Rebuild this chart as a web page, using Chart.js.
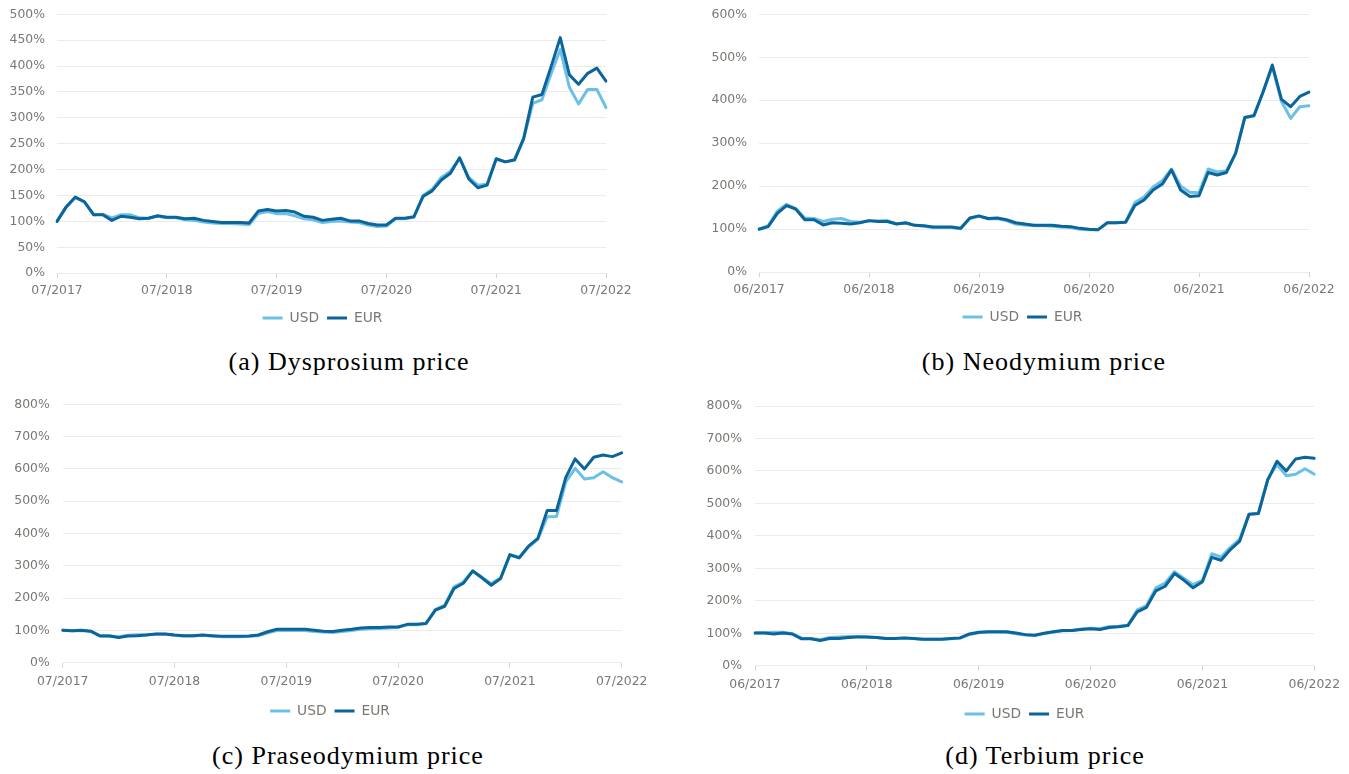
<!DOCTYPE html>
<html>
<head>
<meta charset="utf-8">
<script src="https://cdn.jsdelivr.net/npm/chart.js@4.4.0/dist/chart.umd.min.js"></script>
<style>
  body { margin: 0; background: #fff; width: 1349px; height: 774px; position: relative; overflow: hidden; }
  canvas { position: absolute; }
  .caption { position: absolute; width: 420px; text-align: center; font-family: 'Liberation Serif', serif; font-size: 26px; letter-spacing: 1px; color: #000; line-height: 30px; }
</style>
</head>
<body>
<canvas id="chart-dy"></canvas>
<canvas id="chart-nd"></canvas>
<canvas id="chart-pr"></canvas>
<canvas id="chart-tb"></canvas>
<div class="caption" style="left:139px; top:347px">(a) Dysprosium price</div>
<div class="caption" style="left:834px; top:347px">(b) Neodymium price</div>
<div class="caption" style="left:138px; top:741px">(c) Praseodymium price</div>
<div class="caption" style="left:835px; top:741px">(d) Terbium price</div>
<script>
const USD_COLOR = '#6cc0e5';
const EUR_COLOR = '#0b659a';
const TEXT_COLOR = '#7c7772';
const FONT = 'DejaVu Sans';

// monthly labels, mm/yyyy
function monthLabels(month, year, count) {
    const out = [];
    for (let i = 0; i < count; i++) {
        const m = (month - 1 + i) % 12 + 1;
        const y = year + Math.floor((month - 1 + i) / 12);
        out.push(String(m).padStart(2, '0') + '/' + y);
    }
    return out;
}

const labelsFromJul = monthLabels(7, 2017, 61);
const labelsFromJun = monthLabels(6, 2017, 61);

// price index, % of the first month
const dysprosiumUsd = [100,127,146,137,113,114,107,113,113,107,106,110,107,107,103,102,99,97,96,96,95,94,115,119,115,115,111,105,103,98,100,101,99,98,93,90,91,105,105,108,150,162,185,197,222,185,170,172,220,215,218,260,328,335,385,432,359,327,355,355,320];
const dysprosiumEur = [100,128,147,138,113,113,102,110,108,105,106,111,108,108,105,106,102,100,98,98,98,97,120,123,120,121,118,110,108,102,104,106,101,101,96,93,93,106,106,109,148,159,180,193,223,182,165,170,221,215,219,260,340,345,399,455,383,365,386,396,371];

const neodymiumUsd = [100,108,142,158,148,126,125,118,123,125,118,116,119,119,120,113,114,109,107,104,104,104,101,125,130,124,125,120,112,110,108,108,107,105,104,100,99,99,115,115,117,162,175,198,213,240,200,186,185,240,233,236,277,360,365,420,478,397,358,385,387];
const neodymiumEur = [100,106,137,155,147,122,122,110,115,114,112,115,120,118,118,112,115,109,108,105,105,105,102,126,131,125,126,122,115,112,109,109,109,107,106,102,100,99,115,115,116,155,168,191,205,238,191,176,178,232,226,232,277,360,364,420,482,402,385,409,419];

const praseodymiumUsd = [101,99,100,98,84,84,80,85,87,87,88,88,85,83,83,85,83,81,81,81,82,84,93,100,100,100,100,97,95,94,97,100,104,105,106,108,110,118,118,121,165,178,235,250,285,265,245,262,333,325,358,382,452,453,560,602,569,573,591,573,560];
const praseodymiumEur = [101,99,101,98,83,83,78,83,84,86,89,89,86,84,84,86,84,82,82,82,83,86,96,104,104,104,104,101,98,97,101,104,108,109,109,111,111,119,119,122,163,175,230,246,284,263,240,261,335,325,361,385,471,471,574,631,600,636,643,638,650];

const terbiumUsd = [101,102,103,103,99,85,84,80,87,89,90,90,89,87,85,84,85,84,82,82,82,83,85,96,102,104,104,103,99,95,93,99,104,108,109,113,116,114,121,122,125,172,185,240,255,290,270,250,263,345,335,365,390,467,469,575,620,585,590,607,590];
const terbiumEur = [101,101,98,101,98,83,83,78,84,84,87,89,89,87,84,84,86,84,82,82,82,84,86,98,103,105,105,105,101,96,94,100,105,109,109,112,114,112,118,120,124,166,180,231,245,284,264,240,259,334,325,358,384,467,469,572,630,600,637,642,639];

function makeChart(id, box, labels, usd, eur, yMax, yStep) {
    const canvas = document.getElementById(id);
    canvas.width = box.w;
    canvas.height = box.h;
    canvas.style.left = box.x + 'px';
    canvas.style.top = box.y + 'px';

    const series = (label, data, color, order) => ({
        label, data, order,
        borderColor: color, backgroundColor: color,
        borderWidth: 3, pointBorderWidth: 3, pointBorderColor: color
    });

    return new Chart(canvas, {
        type: 'line',
        data: {
            labels: labels,
            datasets: [
                series('USD', usd, USD_COLOR, 1),
                series('EUR', eur, EUR_COLOR, 0)   // drawn on top
            ]
        },
        options: {
            responsive: false,
            animation: false,
            devicePixelRatio: 1,
            layout: { padding: { top: box.padTop, right: 0, left: 0, bottom: 0 } },
            elements: {
                line: { tension: 0, borderJoinStyle: 'round', borderCapStyle: 'round' },
                point: { radius: 0, hoverRadius: 0 }
            },
            scales: {
                x: {
                    afterFit: s => {
                        s.height = box.xH;
                        s.paddingLeft = 0;
                        s.paddingRight = box.padRight;
                    },
                    border: { display: false },
                    grid: {
                        drawOnChartArea: false,
                        tickLength: 5,
                        color: c => c.index % 12 === 0 ? '#d4d4d4' : 'rgba(0,0,0,0)'
                    },
                    ticks: {
                        autoSkip: false,
                        maxRotation: 0,
                        padding: box.xPad,
                        color: TEXT_COLOR,
                        font: { family: FONT, size: 12.4 },
                        callback: (v, i) => i % 12 === 0 ? labels[i] : ''
                    }
                },
                y: {
                    min: 0,
                    max: yMax,
                    afterFit: s => {
                        s.width = box.axisW;
                        s.paddingTop = 0;
                        s.paddingBottom = 0;
                    },
                    border: { display: false },
                    grid: { color: '#ebebeb', drawTicks: false },
                    ticks: {
                        stepSize: yStep,
                        padding: box.tickPad,
                        color: TEXT_COLOR,
                        font: { family: FONT, size: 12.4 },
                        callback: v => v + '%'
                    }
                }
            },
            plugins: {
                tooltip: { enabled: false },
                legend: {
                    position: 'bottom',
                    labels: {
                        usePointStyle: true,
                        pointStyle: 'line',
                        pointStyleWidth: 20,
                        padding: 8,
                        color: TEXT_COLOR,
                        font: { family: FONT, size: 13.8 },
                        sort: (a, b) => a.datasetIndex - b.datasetIndex
                    }
                }
            }
        }
    });
}

makeChart('chart-dy', { x: 0, y: 0, w: 645, h: 335, axisW: 57, padTop: 14.3, padRight: 39, tickPad: 12, xH: 30, xPad: 5 },
    labelsFromJul, dysprosiumUsd, dysprosiumEur, 500, 50);
makeChart('chart-nd', { x: 700, y: 0, w: 645, h: 334, axisW: 59, padTop: 14.3, padRight: 36, tickPad: 12, xH: 30, xPad: 5 },
    labelsFromJun, neodymiumUsd, neodymiumEur, 600, 100);
makeChart('chart-pr', { x: 0, y: 390, w: 660, h: 338, axisW: 62.7, padTop: 14.3, padRight: 38.3, tickPad: 13, xH: 33.4, xPad: 6.5 },
    labelsFromJul, praseodymiumUsd, praseodymiumEur, 800, 100);
makeChart('chart-tb', { x: 700, y: 390, w: 649, h: 341, axisW: 55, padTop: 16, padRight: 34.7, tickPad: 13, xH: 33.4, xPad: 6.5 },
    labelsFromJun, terbiumUsd, terbiumEur, 800, 100);
</script>
</body>
</html>
